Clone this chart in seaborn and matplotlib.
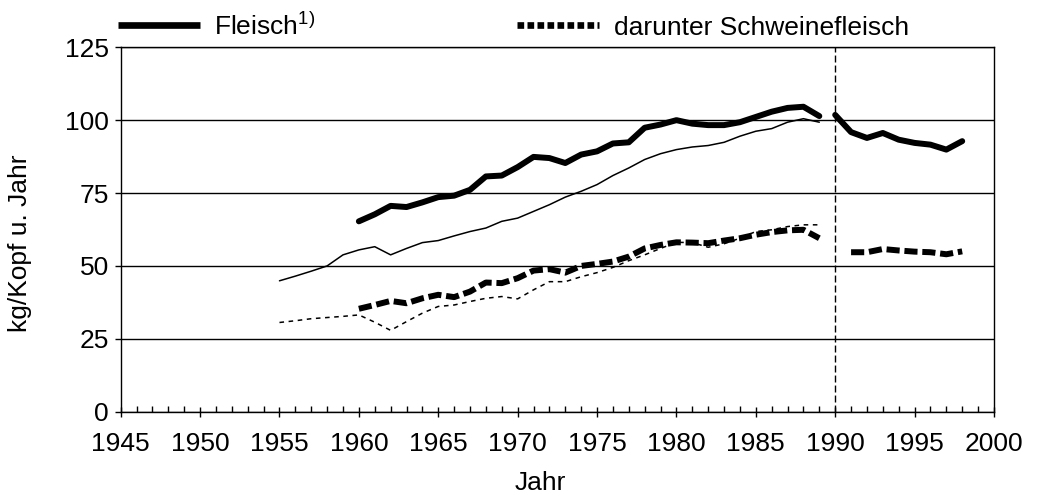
import matplotlib
matplotlib.use("Agg")
import matplotlib.pyplot as plt
from matplotlib.lines import Line2D
from matplotlib.ticker import MultipleLocator
import seaborn as sns

# Fleischverbrauch kg/Kopf u. Jahr
years_west = list(range(1960, 1990))
fleisch_west = [65.3, 67.7, 70.6, 70.2, 71.8, 73.6, 74.1, 76.1, 80.7, 81.0,
                83.9, 87.4, 87.0, 85.3, 88.2, 89.3, 92.0, 92.4, 97.4, 98.5,
                100.0, 98.8, 98.3, 98.3, 99.3, 101.1, 102.9, 104.2, 104.6, 101.4]
schwein_west = [35.3, 36.6, 38.0, 37.2, 38.9, 40.1, 39.3, 41.2, 44.3, 44.1,
                45.8, 48.4, 48.9, 47.7, 50.0, 50.7, 51.5, 53.2, 56.0, 57.2,
                58.1, 58.0, 57.8, 58.7, 59.5, 60.7, 61.6, 62.2, 62.4, 59.5]

years_ost = list(range(1955, 1990))
fleisch_ost = [44.9, 46.5, 48.2, 50.0, 53.8,
               55.5, 56.6, 53.8, 56.0, 58.0, 58.7, 60.3, 61.8, 63.0, 65.3,
               66.4, 68.7, 71.0, 73.6, 75.6, 77.9, 81.0, 83.6, 86.5, 88.5,
               89.9, 90.8, 91.3, 92.4, 94.5, 96.2, 97.1, 99.3, 100.5, 99.3]
schwein_ost = [30.6, 31.2, 31.9, 32.3, 32.7,
               33.2, 30.7, 27.9, 30.9, 33.8, 36.1, 36.6, 37.8, 38.9, 39.5,
               38.7, 41.8, 44.6, 44.6, 46.3, 47.7, 49.5, 51.8, 53.8, 56.0,
               58.1, 58.0, 56.4, 57.6, 59.5, 61.8, 62.4, 63.5, 64.1, 64.1]

years_d = list(range(1990, 1999))
fleisch_d = [101.8, 95.9, 93.9, 95.6, 93.3, 92.2, 91.6, 89.9, 92.8]
years_d_schwein = list(range(1991, 1999))
schwein_d = [54.7, 54.7, 55.8, 55.3, 54.9, 54.7, 54.0, 55.0]

sns.set_style("white")
plt.rcParams['font.family'] = ['Liberation Sans', 'DejaVu Sans']
plt.rcParams['mathtext.default'] = 'regular'
plt.rcParams['text.color'] = 'black'
plt.rcParams['axes.labelcolor'] = 'black'
plt.rcParams['xtick.color'] = 'black'
plt.rcParams['ytick.color'] = 'black'

fs = 19
fig = plt.figure(figsize=(10.37, 4.94), dpi=100)
ax = fig.add_axes([0.1164, 0.1666, 0.8421, 0.7377])

thick = 4.3
sns.lineplot(x=years_west, y=fleisch_west, ax=ax, color='black', lw=thick,
             solid_joinstyle='round', zorder=3)
sns.lineplot(x=years_ost, y=fleisch_ost, ax=ax, color='black', lw=1.1, zorder=3)
sns.lineplot(x=years_west, y=schwein_west, ax=ax, color='black', lw=thick,
             linestyle=(0, (2.2, 0.8)), dash_capstyle='butt', zorder=3)
sns.lineplot(x=years_ost, y=schwein_ost, ax=ax, color='black', lw=1.1,
             linestyle=(0, (3, 3)), zorder=3)
sns.lineplot(x=years_d, y=fleisch_d, ax=ax, color='black', lw=thick,
             solid_joinstyle='round', zorder=3)
sns.lineplot(x=years_d_schwein, y=schwein_d, ax=ax, color='black', lw=thick,
             linestyle=(0, (2.2, 0.8)), dash_capstyle='butt', zorder=3)

ax.axvline(1990, color='black', lw=1, linestyle=(0, (5, 2.2)), zorder=2)

ax.set_xlim(1945, 2000)
ax.set_ylim(0, 125)
ax.set_xticks(range(1945, 2001, 5))
ax.xaxis.set_minor_locator(MultipleLocator(1))
ax.set_yticks(range(0, 126, 25))
ax.yaxis.grid(True, color='black', lw=1)
ax.xaxis.grid(False)
for s in ax.spines.values():
    s.set_color('black')
    s.set_linewidth(1)

ax.tick_params(axis='x', which='major', bottom=True, direction='inout',
               length=7.5, width=1, color='black', labelcolor='black',
               labelsize=fs, pad=11)
ax.tick_params(axis='x', which='minor', bottom=True, direction='in',
               length=4, width=1, color='black')
ax.tick_params(axis='y', which='major', left=True, direction='out',
               length=4.5, width=1, color='black', labelcolor='black',
               labelsize=fs, pad=4)

ax.set_xlabel('Jahr', fontsize=fs, color='black')
ax.set_ylabel('kg/Kopf u. Jahr', fontsize=fs, color='black')
ax.xaxis.set_label_coords(0.481, -0.163)
ax.yaxis.set_label_coords(-0.1016, 0.463)

handles = [
    Line2D([], [], color='black', lw=4.8, solid_capstyle='butt'),
    Line2D([], [], color='black', lw=4.8, linestyle=(0, (1, 0.5)),
           dash_capstyle='butt'),
]
fig.legend(handles, ['Fleisch$^{1)}$', 'darunter Schweinefleisch'],
           loc='center left', bbox_to_anchor=(0.1138, 0.947), ncol=2,
           frameon=False, fontsize=fs, handlelength=3.1, handletextpad=0.55,
           columnspacing=7.65, borderpad=0, borderaxespad=0,
           labelcolor='black')

fig.savefig('out.png', dpi=100)
